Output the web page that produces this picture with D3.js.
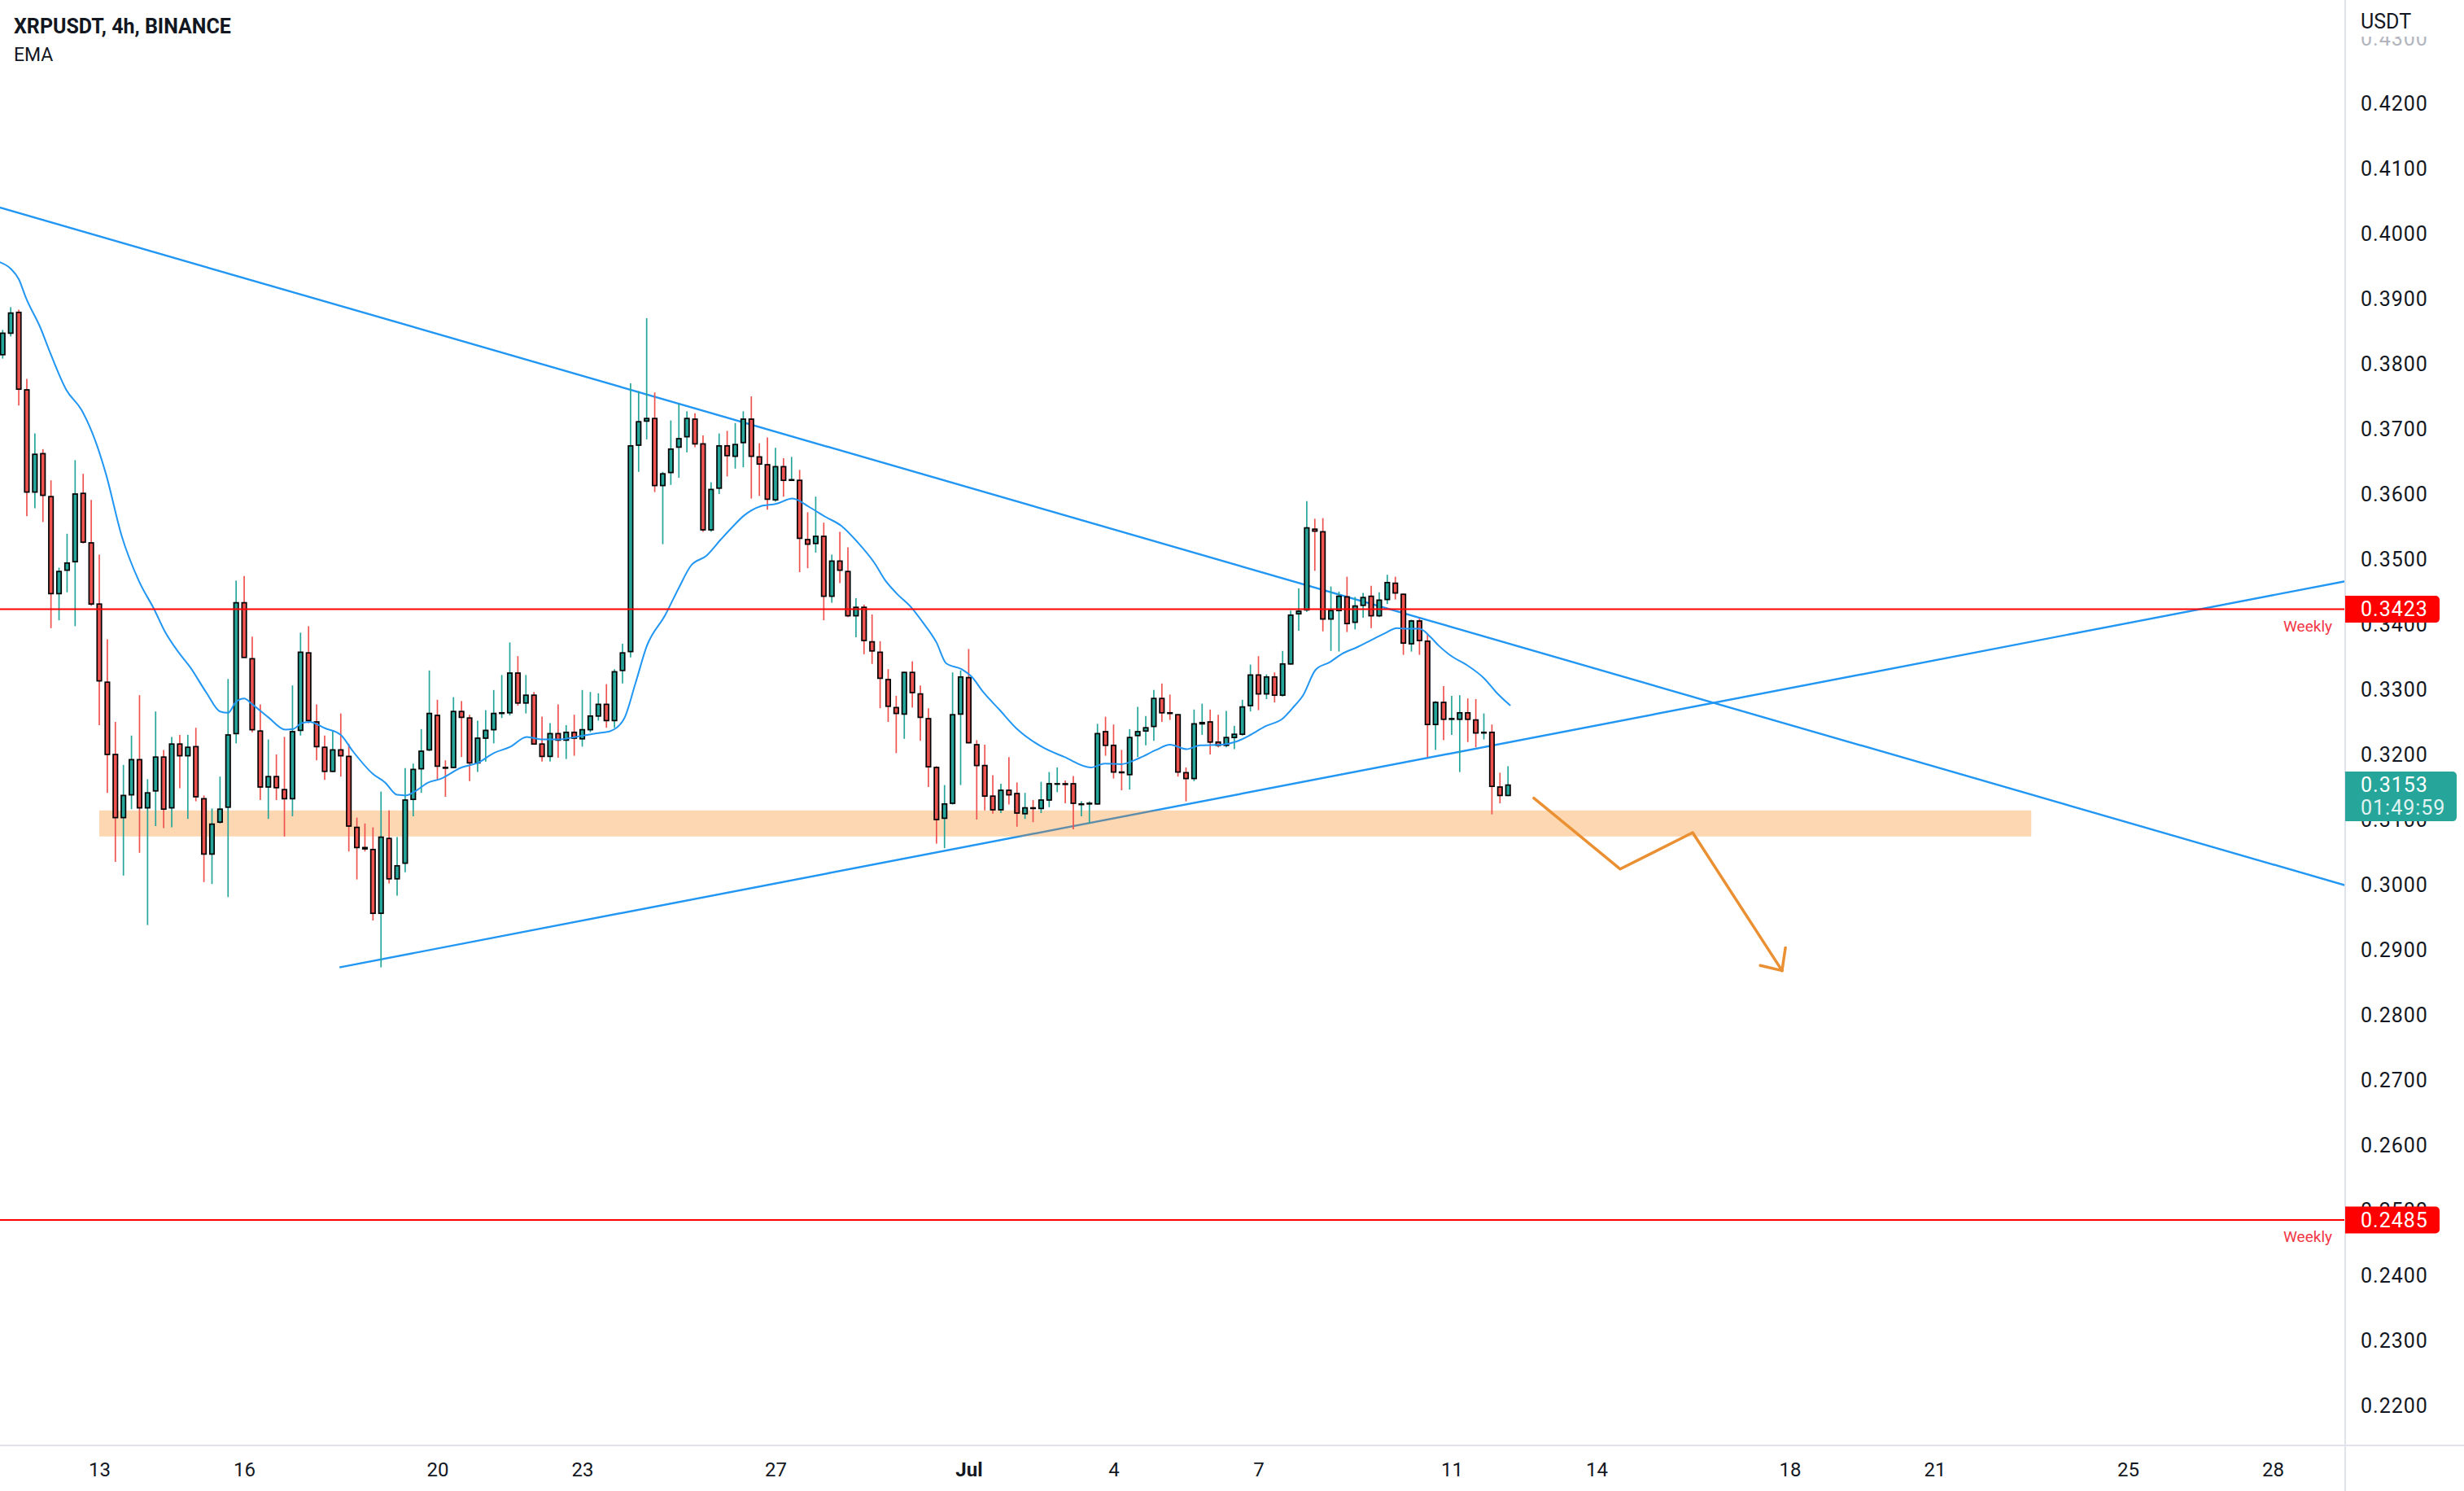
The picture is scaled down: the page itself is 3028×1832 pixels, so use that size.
<!DOCTYPE html>
<html>
<head>
<meta charset="utf-8">
<script src="https://cdn.jsdelivr.net/npm/d3@7"></script>
<style>
  body { margin: 0; background: #fff; }
  text { font-family: Roboto, "Liberation Sans", sans-serif; }
</style>
</head>
<body>
<div id="chart"></div>
<script>
// 4h candles, first one June 11 2022 00:00 UTC
const firstCandle = Date.UTC(2022, 5, 11, 0);
const H4 = 4 * 3600 * 1000;

const opens = [.3814,.3847,.3879,.3760,.3603,.3662,.3596,.3447,.3483,.3496,
.3601,.3525,.3431,.3311,.3200,.3103,.3138,.3192,.3118,.3144,
.3196,.3118,.3216,.3198,.3212,.3132,.3047,.3096,.3119,.3232,
.3433,.3347,.3236,.3150,.3166,.3146,.3132,.3237,.3356,.3250,
.3211,.3174,.3207,.3197,.3088,.3057,.3054,.2956,.3071,.3009,
.3033,.3131,.3178,.3207,.3260,.3180,.3180,.3266,.3256,.3187,
.3225,.3238,.3263,.3264,.3325,.3279,.3291,.3216,.3197,.3232,
.3222,.3234,.3224,.3238,.3259,.3277,.3252,.3329,.3358,.3675,
.3712,.3716,.3613,.3633,.3672,.3688,.3715,.3677,.3545,.3609,
.3674,.3658,.3679,.3715,.3657,.3645,.3591,.3642,.3621,.3621,
.3530,.3524,.3535,.3443,.3497,.3481,.3413,.3426,.3373,.3357,
.3315,.3272,.3262,.3326,.3293,.3255,.3180,.3102,.3125,.3262,
.3318,.3215,.3183,.3136,.3115,.3145,.3140,.3109,.3118,.3117,
.3130,.3155,.3155,.3155,.3123,.3124,.3124,.3235,.3214,.3173,
.3169,.3229,.3236,.3243,.3286,.3264,.3261,.3172,.3163,.3247,
.3250,.3219,.3214,.3226,.3231,.3275,.3322,.3293,.3319,.3291,
.3339,.3416,.3422,.3546,.3542,.3408,.3421,.3442,.3403,.3429,
.3443,.3413,.3438,.3463,.3446,.3370,.3405,.3374,.3246,.3280,
.3254,.3254,.3264,.3253,.3233,.3234,.3150,.3137];

const highs = [.3852,.3887,.3883,.3777,.3693,.3669,.3621,.3487,.3539,.3652,
.3631,.3591,.3507,.3377,.3250,.3184,.3229,.3291,.3162,.3266,
.3207,.3227,.3230,.3230,.3241,.3137,.3117,.3166,.3316,.3467,
.3474,.3381,.3277,.3223,.3200,.3227,.3306,.3387,.3397,.3277,
.3229,.3236,.3263,.3216,.3103,.3094,.3088,.3143,.3114,.3073,
.3179,.3186,.3239,.3329,.3284,.3191,.3288,.3282,.3261,.3252,
.3268,.3299,.3322,.3372,.3351,.3322,.3296,.3258,.3248,.3277,
.3245,.3261,.3299,.3296,.3294,.3308,.3331,.3370,.3770,.3758,
.3870,.3756,.3634,.3713,.3738,.3727,.3724,.3690,.3618,.3693,
.3697,.3709,.3727,.3750,.3678,.3687,.3671,.3655,.3657,.3637,
.3572,.3596,.3556,.3507,.3542,.3518,.3440,.3430,.3415,.3374,
.3331,.3290,.3327,.3343,.3306,.3271,.3182,.3153,.3326,.3329,
.3362,.3222,.3215,.3168,.3155,.3196,.3157,.3141,.3130,.3158,
.3173,.3180,.3160,.3167,.3128,.3128,.3247,.3258,.3246,.3207,
.3239,.3273,.3259,.3299,.3309,.3292,.3262,.3180,.3269,.3278,
.3269,.3261,.3267,.3244,.3284,.3338,.3351,.3323,.3326,.3359,
.3421,.3455,.3589,.3562,.3563,.3458,.3450,.3473,.3442,.3448,
.3459,.3449,.3476,.3473,.3447,.3407,.3409,.3386,.3282,.3305,
.3290,.3291,.3286,.3285,.3263,.3246,.3172,.3182];

const lows = [.3808,.3842,.3736,.3566,.3578,.3557,.3394,.3406,.3449,.3397,
.3524,.3428,.3245,.3141,.3035,.3014,.3116,.3049,.2938,.3090,
.3087,.3088,.3148,.3101,.3128,.3004,.3001,.3094,.2981,.3217,
.3349,.3234,.3130,.3101,.3130,.3074,.3105,.3229,.3248,.3191,
.3161,.3173,.3166,.3051,.3008,.3051,.2945,.2873,.3002,.2983,
.3019,.3105,.3141,.3205,.3160,.3135,.3179,.3196,.3159,.3173,
.3189,.3217,.3256,.3260,.3275,.3263,.3215,.3189,.3189,.3195,
.3193,.3198,.3212,.3234,.3252,.3241,.3241,.3309,.3349,.3634,
.3684,.3603,.3523,.3614,.3625,.3664,.3672,.3542,.3542,.3600,
.3627,.3639,.3641,.3593,.3597,.3576,.3588,.3596,.3620,.3480,
.3486,.3510,.3406,.3433,.3463,.3411,.3380,.3354,.3339,.3271,
.3250,.3202,.3224,.3272,.3221,.3150,.3063,.3056,.3123,.3153,
.3217,.3100,.3114,.3109,.3110,.3123,.3089,.3101,.3096,.3110,
.3119,.3142,.3125,.3085,.3105,.3094,.3123,.3198,.3163,.3145,
.3146,.3196,.3214,.3221,.3250,.3253,.3166,.3128,.3159,.3230,
.3200,.3211,.3211,.3208,.3229,.3266,.3268,.3285,.3280,.3289,
.3338,.3390,.3419,.3482,.3389,.3359,.3358,.3388,.3392,.3410,
.3394,.3411,.3431,.3438,.3353,.3358,.3353,.3196,.3207,.3222,
.3230,.3173,.3219,.3211,.3223,.3108,.3125,.3136];

const closes = [.3847,.3878,.3761,.3603,.3661,.3598,.3447,.3481,.3494,.3600,
.3526,.3431,.3313,.3200,.3103,.3137,.3192,.3118,.3141,.3196,
.3116,.3216,.3198,.3211,.3135,.3047,.3093,.3116,.3230,.3433,
.3349,.3238,.3150,.3166,.3149,.3132,.3235,.3357,.3252,.3212,
.3174,.3207,.3198,.3090,.3057,.3055,.2956,.3073,.3009,.3029,
.3130,.3177,.3205,.3263,.3182,.3179,.3266,.3257,.3187,.3225,
.3237,.3263,.3264,.3325,.3279,.3291,.3216,.3197,.3232,.3222,
.3234,.3225,.3238,.3259,.3277,.3252,.3327,.3356,.3674,.3711,
.3716,.3613,.3631,.3669,.3685,.3716,.3677,.3545,.3607,.3674,
.3659,.3676,.3715,.3658,.3646,.3592,.3642,.3621,.3622,.3532,
.3523,.3535,.3443,.3497,.3483,.3413,.3426,.3375,.3359,.3317,
.3274,.3263,.3326,.3295,.3257,.3181,.3100,.3124,.3261,.3319,
.3218,.3183,.3136,.3115,.3145,.3138,.3110,.3118,.3117,.3130,
.3155,.3155,.3154,.3125,.3124,.3125,.3232,.3214,.3173,.3172,
.3226,.3235,.3241,.3286,.3264,.3263,.3173,.3163,.3247,.3249,
.3219,.3214,.3226,.3231,.3273,.3322,.3293,.3319,.3291,.3339,
.3414,.3420,.3548,.3543,.3408,.3421,.3443,.3401,.3428,.3441,
.3413,.3437,.3464,.3448,.3371,.3405,.3375,.3246,.3280,.3254,
.3255,.3264,.3254,.3233,.3234,.3151,.3137,.3153];

// EMA: [candle index, value]
const emaPoints = [[-0.34,.3956],[1.0,.3946],[2.0,.3930],[2.9,.3901],[4.7,.3855],[5.9,.3817],[7.9,.3760],
[9.8,.3729],[11.5,.3682],[12.8,.3632],[14.8,.3535],[16.9,.3467],[18.9,.3421],[20.1,.3390],[21.9,.3356],
[23.3,.3334],[25.3,.3295],[27.0,.3266],[28.0,.3264],[29.0,.3281],[30.0,.3286],[31.0,.3277],[33.0,.3257],
[35.1,.3238],[36.1,.3239],[37.1,.3248],[38.1,.3250],[40.1,.3240],[42.0,.3230],[43.5,.3205],[46.0,.3170],
[47.5,.3157],[49.0,.3138],[50.1,.3137],[51.3,.3144],[52.9,.3157],[54.3,.3162],[57.0,.3180],[59.0,.3187],
[61.0,.3202],[63.1,.3212],[65.1,.3227],[67.1,.3223],[69.1,.3223],[71.2,.3227],[73.5,.3232],[75.5,.3236],
[77.2,.3255],[78.6,.3309],[80.0,.3366],[82.3,.3414],[84.0,.3456],[85.5,.3490],[87.4,.3505],[89.2,.3530],
[90.7,.3550],[92.1,.3567],[94.1,.3581],[96.1,.3585],[98.1,.3593],[100.2,.3580],[102.2,.3565],[104.2,.3551],
[106.2,.3526],[108.3,.3494],[109.6,.3468],[111.0,.3448],[113.0,.3424],[114.3,.3403],[116.0,.3372],[117.2,.3340],
[119.1,.3331],[120.4,.3319],[121.8,.3296],[123.8,.3269],[126.1,.3238],[129.2,.3211],[131.9,.3196],[135.2,.3180],
[136.9,.3186],[138.9,.3185],[141.3,.3195],[143.3,.3207],[145.0,.3215],[147.1,.3208],[148.7,.3214],[151.4,.3215],
[153.3,.3220],[155.0,.3230],[156.8,.3243],[159.0,.3255],[160.5,.3275],[161.5,.3290],[163.1,.3330],[164.9,.3342],
[166.3,.3354],[168.3,.3365],[169.6,.3373],[171.7,.3386],[173.2,.3394],[174.4,.3393],[176.0,.3393],[177.4,.3380],
[178.4,.3367],[180.1,.3350],[181.8,.3338],[184.1,.3316],[185.5,.3296],[187.3,.3275]];

const priceTicks = [0.43,0.42,0.41,0.40,0.39,0.38,0.37,0.36,0.35,0.34,0.33,0.32,0.31,0.30,0.29,0.28,0.27,0.26,0.25,0.24,0.23,0.22];
const dateTicks = ["2022-06-13","2022-06-16","2022-06-20","2022-06-23","2022-06-27","2022-07-01","2022-07-04",
                   "2022-07-07","2022-07-11","2022-07-14","2022-07-18","2022-07-21","2022-07-25","2022-07-28"];

// drawings
const weeklyLevels = [0.3423, 0.2485];
const zoneDates = ["2022-06-13T00:00Z", "2022-07-23T00:00Z"];
const zonePrices = [0.3074, 0.3114];
const fallingLine = [["2022-06-10T22:40Z", 0.4040], ["2022-07-29T12:00Z", 0.2999]];
const risingLine = [["2022-06-17T23:20Z", 0.2873], ["2022-07-29T12:00Z", 0.3466]];
const arrowPath = [["2022-07-12T16:50Z", 0.3133], ["2022-07-14T11:45Z", 0.3024],
                   ["2022-07-15T23:45Z", 0.3080], ["2022-07-17T20:10Z", 0.2868]];
const arrowWings = [["2022-07-17T09:20Z", 0.2876], ["2022-07-17T21:50Z", 0.2903]];
const lastPrice = 0.3153;
const countdown = "01:49:59";

const W = 3028, H = 1832;
const plotRight = 2882, plotBottom = 1776;
const upColor = "#26a69a", downColor = "#ef5350", blue = "#2196f3";
const textColor = "#131722", borderColor = "#e0e3eb";

const svg = d3.select("#chart").append("svg")
  .attr("width", W).attr("height", H);

const x = d3.scaleUtc()
  .domain([new Date("2022-06-13T00:00Z"), new Date("2022-07-28T00:00Z")])
  .range([122, 2793]);
const y = d3.scaleLinear().domain([0.22, 0.42]).range([1727, 127]);

const candles = opens.map((o, i) => ({
  t: new Date(firstCandle + i * H4), o, h: highs[i], l: lows[i], c: closes[i]
}));

svg.append("clipPath").attr("id", "plot")
  .append("rect").attr("x", 0).attr("y", 0).attr("width", plotRight).attr("height", plotBottom);

const plot = svg.append("g").attr("clip-path", "url(#plot)");

const pt = d => [x(new Date(d[0])), y(d[1])];

// trend lines
[fallingLine, risingLine].forEach(ln => {
  plot.append("line")
    .attr("x1", pt(ln[0])[0]).attr("y1", pt(ln[0])[1])
    .attr("x2", pt(ln[1])[0]).attr("y2", pt(ln[1])[1])
    .attr("stroke", blue).attr("stroke-width", 2.4);
});

// support zone
plot.append("rect")
  .attr("x", x(new Date(zoneDates[0])))
  .attr("width", x(new Date(zoneDates[1])) - x(new Date(zoneDates[0])))
  .attr("y", y(zonePrices[1]))
  .attr("height", y(zonePrices[0]) - y(zonePrices[1]))
  .attr("fill", "#f57c00").attr("fill-opacity", 0.3);

// candles
const bodyW = 5.4;
const cg = plot.append("g");
cg.selectAll(".wick").data(candles).enter().append("line")
  .attr("x1", d => x(d.t)).attr("x2", d => x(d.t))
  .attr("y1", d => y(d.h)).attr("y2", d => y(d.l))
  .attr("stroke", d => d.c >= d.o ? upColor : downColor)
  .attr("stroke-width", 1.7);
cg.selectAll(".body").data(candles).enter().append("rect")
  .attr("x", d => x(d.t) - bodyW / 2)
  .attr("width", bodyW)
  .attr("y", d => y(Math.max(d.o, d.c)))
  .attr("height", d => Math.max(0.5, Math.abs(y(d.o) - y(d.c))))
  .attr("fill", d => d.c >= d.o ? upColor : downColor)
  .attr("stroke", "#000").attr("stroke-width", 1.7);

// EMA
plot.append("path")
  .datum(emaPoints)
  .attr("d", d3.line()
    .x(d => x(new Date(firstCandle + d[0] * H4)))
    .y(d => y(d[1]))
    .curve(d3.curveMonotoneX))
  .attr("fill", "none").attr("stroke", blue).attr("stroke-width", 2);

// weekly levels
weeklyLevels.forEach(v => {
  plot.append("line")
    .attr("x1", 0).attr("x2", plotRight)
    .attr("y1", y(v)).attr("y2", y(v))
    .attr("stroke", "#ff0000").attr("stroke-width", 2);
  svg.append("text")
    .attr("x", 2866).attr("y", y(v) + 27)
    .attr("text-anchor", "end")
    .attr("font-size", 19).attr("fill", "#f23645")
    .text("Weekly");
});

// projected move arrow
const orange = "#eb9032";
plot.append("path")
  .datum(arrowPath)
  .attr("d", d3.line().x(d => pt(d)[0]).y(d => pt(d)[1]))
  .attr("fill", "none").attr("stroke", orange).attr("stroke-width", 3.5)
  .attr("stroke-linejoin", "round").attr("stroke-linecap", "round");
const tip = arrowPath[arrowPath.length - 1];
arrowWings.forEach(w => {
  plot.append("line")
    .attr("x1", pt(tip)[0]).attr("y1", pt(tip)[1])
    .attr("x2", pt(w)[0]).attr("y2", pt(w)[1])
    .attr("stroke", orange).attr("stroke-width", 3.5).attr("stroke-linecap", "round");
});

// price axis
const yAxis = svg.append("g")
  .attr("transform", `translate(${plotRight},0)`)
  .call(d3.axisRight(y).tickValues(priceTicks).tickFormat(d3.format(".4f")).tickSize(0).tickPadding(19));
yAxis.select(".domain").remove();
yAxis.selectAll("text")
  .attr("font-size", 25).attr("letter-spacing", 1)
  .attr("fill", d => d > 0.425 ? "#b2b5be" : textColor)
  .style("font-family", "Roboto, 'Liberation Sans', sans-serif");

// time axis
const xAxis = svg.append("g")
  .attr("transform", `translate(0,${plotBottom})`)
  .call(d3.axisBottom(x)
    .tickValues(dateTicks.map(d => new Date(d + "T00:00Z")))
    .tickFormat(d => d.getUTCDate() === 1 ? d3.utcFormat("%b")(d) : d.getUTCDate())
    .tickSize(0));
xAxis.select(".domain").remove();
xAxis.selectAll("text")
  .attr("y", 38).attr("dy", 0)
  .attr("font-size", 24).attr("fill", textColor)
  .attr("font-weight", d => d.getUTCDate() === 1 ? "bold" : "normal")
  .style("font-family", "Roboto, 'Liberation Sans', sans-serif");

// cover the top of the axis so 0.4300 fades under the unit
svg.append("rect").attr("x", plotRight + 1).attr("y", 0).attr("width", W - plotRight).attr("height", 45)
  .attr("fill", "#fff");
svg.append("text").attr("x", 2901).attr("y", 35)
  .attr("font-size", 25).attr("fill", textColor).text("USDT");

// borders
svg.append("line").attr("x1", plotRight).attr("x2", plotRight).attr("y1", 0).attr("y2", H)
  .attr("stroke", borderColor).attr("stroke-width", 2);
svg.append("line").attr("x1", 0).attr("x2", W).attr("y1", plotBottom).attr("y2", plotBottom)
  .attr("stroke", borderColor).attr("stroke-width", 2);

// price tags
function tag(v, fill, lines, w) {
  const h = lines.length === 1 ? 33 : 61;
  const top = lines.length === 1 ? y(v) - 16.5 : y(v) - 16.5;
  svg.append("path")
    .attr("d", `M${plotRight},${top} h${w - 5} a5,5 0 0 1 5,5 v${h - 10} a5,5 0 0 1 -5,5 h${-(w - 5)} z`)
    .attr("fill", fill);
  lines.forEach((s, k) => {
    svg.append("text").attr("x", 2901).attr("y", top + 25 + k * 28)
      .attr("font-size", 25).attr("letter-spacing", 1)
      .attr("fill", k === 0 ? "#fff" : "#e0f2f1").text(s);
  });
}
weeklyLevels.forEach(v => tag(v, "#ff0000", [d3.format(".4f")(v)], 116));
tag(lastPrice, upColor, [d3.format(".4f")(lastPrice), countdown], 137);

// title
svg.append("text").attr("x", 17).attr("y", 41)
  .attr("font-size", 25).attr("font-weight", "bold").attr("fill", textColor)
  .text("XRPUSDT, 4h, BINANCE");
svg.append("text").attr("x", 17).attr("y", 75)
  .attr("font-size", 23).attr("fill", textColor)
  .text("EMA");
</script>
</body>
</html>
